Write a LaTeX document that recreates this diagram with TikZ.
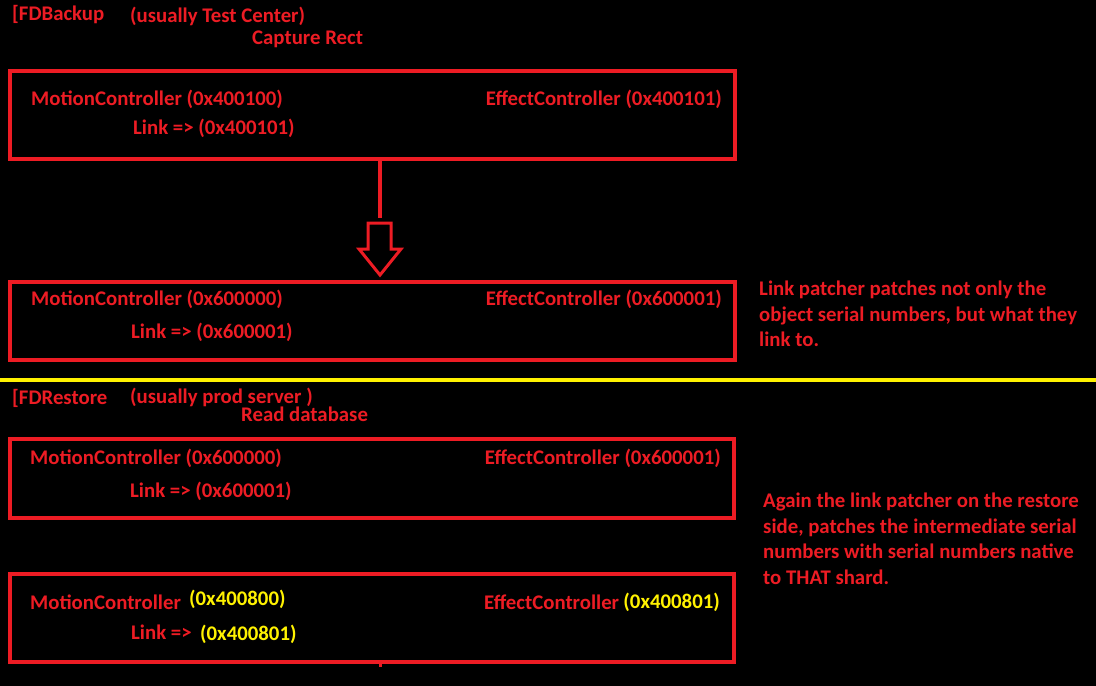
\documentclass[tikz,border=0pt]{standalone}
\usepackage{fontspec}
\setmainfont{Carlito}
\definecolor{paintred}{HTML}{ED1C24}
\definecolor{paintyellow}{HTML}{FFF200}
\tikzset{
    rect/.style={draw=paintred, line width=4pt, inner sep=0pt},
    lbl/.style={text=paintred, font=\bfseries\fontsize{20.8}{25.5}\selectfont, inner sep=0pt},
    ylbl/.style={lbl, text=paintyellow},
}
\begin{document}
\begin{tikzpicture}[x=1pt,y=-1pt]
    % Background
    \fill[black] (0,0) rectangle (1096,686);
    \useasboundingbox (0,0) rectangle (1096,686);

    % FDBackup
    \node[lbl,anchor=west] (backup) at (12,15) {[FDBackup};
    \node[lbl,anchor=west] (testcenter) at (130,16) {(usually Test Center)};
    \node[lbl,anchor=west] (capture) at (252,39) {Capture Rect};

    \node[rect,minimum width=725pt,minimum height=88pt] (boxA) at (372.5,115) {};
    \node[lbl,anchor=west] (motionA) at (31,99) {MotionController (0x400100)};
    \node[lbl,anchor=west] (linkA) at (133,128) {Link => (0x400101)};
    \node[lbl,anchor=east] (effectA) at (722,99) {EffectController (0x400101)};

    % Hollow arrow
    \coordinate (arrowtop) at (380,218);
    \draw[paintred,line width=4pt] (boxA.south -| arrowtop) -- (arrowtop);
    \draw[paintred,line width=3pt,line join=miter] (368,223) -- (391,223) -- (391,249) -- (401,249)
        -- (380,275) -- (359,249) -- (368,249) -- cycle;

    \node[rect,minimum width=725pt,minimum height=78pt] (boxB) at (372.5,321) {};
    \node[lbl,anchor=west] (motionB) at (31,299) {MotionController (0x600000)};
    \node[lbl,anchor=west] (linkB) at (131,332) {Link => (0x600001)};
    \node[lbl,anchor=east] (effectB) at (722,299) {EffectController (0x600001)};
    \node[lbl,anchor=north west,align=left] (noteB) at (759,281)
        {Link patcher patches not only the\\object serial numbers, but what they\\link to.};

    % Divider
    \draw[paintyellow,line width=4pt] (0,380) -- (1096,380);

    % FDRestore
    \node[lbl,anchor=west] (restore) at (12,398) {[FDRestore};
    \node[lbl,anchor=west] (prodserver) at (130,397) {(usually prod server )};
    \node[lbl,anchor=west] (readdb) at (241,414) {Read database};

    \node[rect,minimum width=724pt,minimum height=79pt] (boxC) at (372,478.5) {};
    \node[lbl,anchor=west] (motionC) at (30,458) {MotionController (0x600000)};
    \node[lbl,anchor=west] (linkC) at (130,491) {Link => (0x600001)};
    \node[lbl,anchor=east] (effectC) at (721,458) {EffectController (0x600001)};
    \node[lbl,anchor=north west,align=left] (noteC) at (763,493)
        {Again the link patcher on the restore\\side, patches the intermediate serial\\numbers with serial numbers native\\to THAT shard.};

    \node[rect,minimum width=724pt,minimum height=88pt] (boxD) at (372,618) {};
    \node[lbl,anchor=west] (motionD) at (30,602) {MotionController};
    \node[ylbl,anchor=west] (serialD) at (189,599) {(0x400800)};
    \node[ylbl,anchor=east] (effserialD) at (720,602) {(0x400801)};
    \node[lbl,anchor=east] (effectD) at ([xshift=-4pt]effserialD.west) {EffectController};
    \node[lbl,anchor=west] (linkD) at (131,632) {Link =>};
    \node[ylbl,anchor=west] (linkserialD) at (200,634) {(0x400801)};
    \draw[paintred,line width=3pt] (boxD.south -| arrowtop) -- ++(0,3);
\end{tikzpicture}
\end{document}
